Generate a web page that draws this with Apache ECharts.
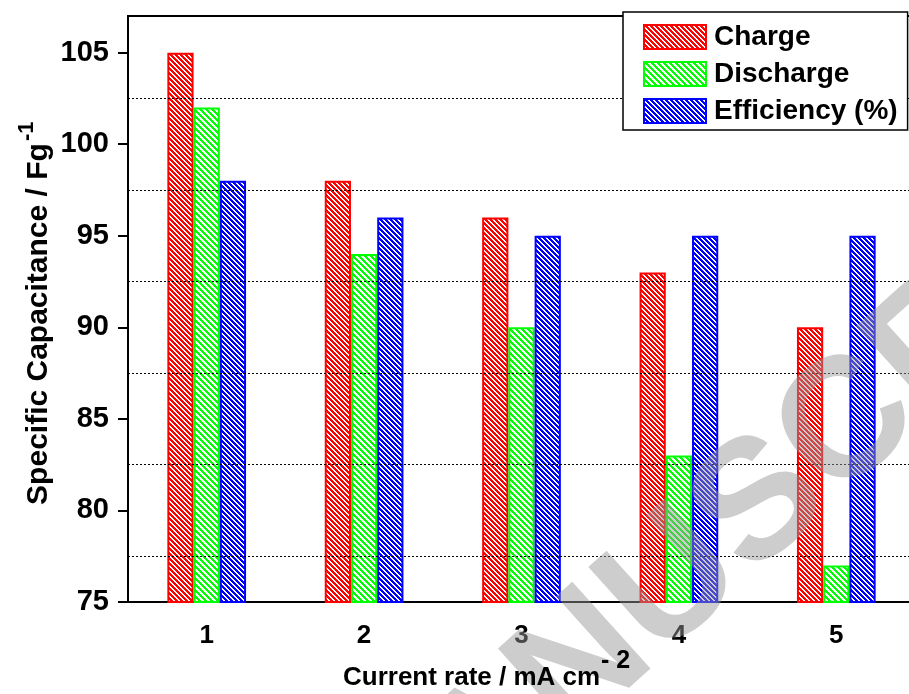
<!DOCTYPE html>
<html>
<head>
<meta charset="utf-8">
<script src="https://cdn.jsdelivr.net/npm/echarts@6/dist/echarts.min.js"></script>
<style>
html,body{margin:0;padding:0;background:#fff;}
#chart{width:909px;height:694px;}
</style>
</head>
<body>
<div id="chart"></div>
<script>
// ---- data ----
const categories = ['1', '2', '3', '4', '5'];
const seriesNames = ['Charge', 'Discharge', 'Efficiency (%)'];
const chargeValues = [105, 98, 96, 93, 90];
const dischargeValues = [102, 94, 90, 83, 77];
const efficiencyValues = [98, 96, 95, 95, 95];
const gridLineValues = [77.5, 82.5, 87.5, 92.5, 97.5, 102.5];
const yMin = 75, yMax = 107, yStep = 5;
const xTitle = 'Current rate / mA cm';
const xTitleSup = '- 2';
const yTitle = 'Specific Capacitance / Fg';
const yTitleSup = '-1';
const watermark = 'MANUSCRIPT';

// ---- styles ----
const FONT = '"Liberation Sans", Arial, Helvetica, sans-serif';
const colors = ['#ff0000', '#00ff00', '#0000ff'];
const hatchPeriod = [5, 6, 5];
const hatchFill = [3, 3, 3];

function hatch(color, n, k) {
  const c = document.createElement('canvas');
  c.width = n; c.height = n;
  const ctx = c.getContext('2d');
  ctx.fillStyle = '#ffffff';
  ctx.fillRect(0, 0, n, n);
  ctx.fillStyle = color;
  for (let y = 0; y < n; y++) {
    for (let x = 0; x < n; x++) {
      if ((((x - y) % n) + n) % n < k) ctx.fillRect(x, y, 1, 1);
    }
  }
  return { image: c, repeat: 'repeat' };
}

const chart = echarts.init(document.getElementById('chart'), null, { renderer: 'canvas' });

function barSeries(i, data) {
  return {
    name: seriesNames[i],
    type: 'bar',
    data: data,
    z: 3,
    barGap: '0%',
    barCategoryGap: '50%',
    itemStyle: { color: hatch(colors[i], hatchPeriod[i], hatchFill[i]), borderColor: colors[i], borderWidth: 2 },
    emphasis: { disabled: true }
  };
}

const option = {
  animation: false,
  backgroundColor: '#ffffff',
  textStyle: { fontFamily: FONT },
  grid: {
    left: 128, top: 16, width: 787, height: 586,
    outerBoundsMode: 'none',
    containLabel: false,
    show: true, borderColor: '#000', borderWidth: 2, backgroundColor: 'transparent'
  },
  legend: {
    data: seriesNames,
    orient: 'vertical',
    left: 623, top: 12,
    icon: 'rect',
    itemWidth: 62, itemHeight: 24, itemGap: 9,
    padding: [11, 10, 5, 20],
    borderColor: '#000', borderWidth: 1.5,
    backgroundColor: '#fff',
    z: 10,
    selectedMode: false,
    textStyle: { fontSize: 28, fontWeight: 'bold', color: '#000', fontFamily: FONT, padding: [0, 0, 0, 3] }
  },
  xAxis: [{
    type: 'category',
    data: categories,
    position: 'bottom',
    axisLine: { lineStyle: { color: '#000', width: 2 } },
    axisTick: { alignWithLabel: true, length: 11, lineStyle: { color: '#000', width: 2 } },
    axisLabel: { fontSize: 26, fontWeight: 'bold', color: '#000', margin: 21, fontFamily: FONT },
    splitLine: { show: false }
  }, {
    type: 'category',
    data: categories,
    position: 'bottom',
    axisLine: { show: false },
    axisTick: { inside: true, alignWithLabel: false, length: 4, lineStyle: { color: '#000', width: 1.5 } },
    axisLabel: { show: false },
    splitLine: { show: false }
  }],
  yAxis: {
    type: 'value',
    min: yMin, max: yMax, interval: yStep,
    axisLine: { show: true, lineStyle: { color: '#000', width: 2 } },
    axisTick: { show: true, length: 10, lineStyle: { color: '#000', width: 2 } },
    axisLabel: { fontSize: 29, fontWeight: 'bold', color: '#000', margin: 19, showMaxLabel: false, fontFamily: FONT },
    splitLine: { show: false }
  },
  series: [
    {
      name: 'grid',
      type: 'line',
      data: [],
      z: 1,
      silent: true,
      markLine: {
        silent: true,
        symbol: ['none', 'none'],
        label: { show: false },
        lineStyle: { color: '#000', type: [2, 2], width: 1 },
        data: gridLineValues.map(v => ({ yAxis: v }))
      }
    },
    barSeries(0, chargeValues),
    barSeries(1, dischargeValues),
    barSeries(2, efficiencyValues)
  ],
  graphic: [
    {
      type: 'text', x: 340, y: 885, rotation: 42 * Math.PI / 180, z: 50, silent: true,
      style: { text: watermark, fontSize: 170, fontWeight: 'bold', fontFamily: FONT,
               fill: 'rgba(150,150,150,0.48)', textAlign: 'left', textVerticalAlign: 'middle' }
    },
    {
      type: 'text', x: 343, y: 678, z: 100,
      style: { text: xTitle, fontSize: 26, fontWeight: 'bold', fontFamily: FONT, fill: '#000',
               textAlign: 'left', textVerticalAlign: 'middle' }
    },
    {
      type: 'text', x: 601, y: 661, z: 100,
      style: { text: xTitleSup, fontSize: 25, fontWeight: 'bold', fontFamily: FONT, fill: '#000',
               textAlign: 'left', textVerticalAlign: 'middle' }
    },
    {
      type: 'text', x: 39, y: 324, rotation: Math.PI / 2, z: 100,
      style: { text: yTitle, fontSize: 30, fontWeight: 'bold', fontFamily: FONT, fill: '#000',
               textAlign: 'center', textVerticalAlign: 'middle' }
    },
    {
      type: 'text', x: 27, y: 141, rotation: Math.PI / 2, z: 100,
      style: { text: yTitleSup, fontSize: 22, fontWeight: 'bold', fontFamily: FONT, fill: '#000',
               textAlign: 'left', textVerticalAlign: 'middle' }
    }
  ]
};

chart.setOption(option);
</script>
</body>
</html>
